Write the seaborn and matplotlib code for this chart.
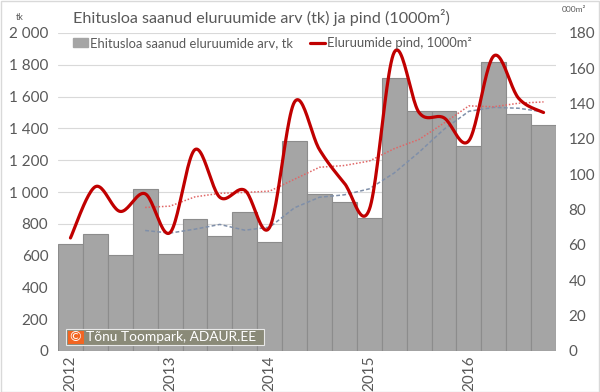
import numpy as np
import pandas as pd
import matplotlib
matplotlib.use("Agg")
import matplotlib.pyplot as plt
import seaborn as sns
from matplotlib.patches import Patch, Rectangle
from matplotlib.lines import Line2D

# ---- data ----
quarters = ["2012 Q1", "2012 Q2", "2012 Q3", "2012 Q4",
            "2013 Q1", "2013 Q2", "2013 Q3", "2013 Q4",
            "2014 Q1", "2014 Q2", "2014 Q3", "2014 Q4",
            "2015 Q1", "2015 Q2", "2015 Q3", "2015 Q4",
            "2016 Q1", "2016 Q2", "2016 Q3", "2016 Q4"]
count_tk = [675, 734, 604, 1019, 610, 832, 723, 874, 686, 1321,
            987, 935, 836, 1719, 1511, 1511, 1289, 1818, 1489, 1419]
area_1000m2 = [64, 93, 79, 89, 67, 114, 87, 91, 70, 141,
               114, 95, 80, 169, 135, 132, 119, 167, 143, 135]
year_labels = ["2012", "2013", "2014", "2015", "2016"]
left_ticks = [0, 200, 400, 600, 800, 1000, 1200, 1400, 1600, 1800, 2000]
right_ticks = [0, 20, 40, 60, 80, 100, 120, 140, 160, 180]

title = "Ehitusloa saanud eluruumide arv (tk) ja pind (1000m²)"
lab_bar = "Ehitusloa saanud eluruumide arv, tk"
lab_line = "Eluruumide pind, 1000m²"

GREY_TXT = "#595959"
BAR = "#A5A5A5"
RED = "#C00000"

df = pd.DataFrame({"quarter": quarters, "count": count_tk, "area": area_1000m2})
df["pos"] = np.arange(len(df))
df["ma_count"] = df["count"].rolling(4).mean()
df["ma_area"] = df["area"].rolling(4).mean()


def catmull_rom(x, y, n=24):
    x = np.asarray(x, float)
    y = np.asarray(y, float)
    px = np.concatenate([[x[0]], x, [x[-1]]])
    py = np.concatenate([[y[0]], y, [y[-1]]])
    ox, oy = [], []
    t = np.linspace(0, 1, n, endpoint=False)
    for i in range(1, len(px) - 2):
        for arr, out in ((px, ox), (py, oy)):
            p0, p1, p2, p3 = arr[i - 1], arr[i], arr[i + 1], arr[i + 2]
            out.extend(0.5 * ((2 * p1) + (-p0 + p2) * t
                              + (2 * p0 - 5 * p1 + 4 * p2 - p3) * t ** 2
                              + (-p0 + 3 * p1 - 3 * p2 + p3) * t ** 3))
    ox.append(x[-1]); oy.append(y[-1])
    return np.array(ox), np.array(oy)


sns.set_theme(style="white")
plt.rcParams["font.family"] = ["Lato", "DejaVu Sans"]

fig = plt.figure(figsize=(6, 3.92), dpi=100)
ax = fig.add_axes([58 / 600, 41 / 392, 498 / 600, 318 / 392])

sns.barplot(data=df, x="quarter", y="count", color=BAR, saturation=1,
            width=1.0, edgecolor="#8C8C8C", linewidth=0.8, ax=ax, zorder=2)
ax.plot(df["pos"], df["ma_count"], color="#7F8FA9", lw=1.1,
        ls=(0, (2.5, 1.5)), zorder=3)

ax.set_xlim(-0.5, 19.5)
ax.set_ylim(0, 2000)
ax.set_yticks(left_ticks)
ax.set_yticklabels([f"{v:,}".replace(",", " ") for v in left_ticks])
ax.set_xticks([0, 4, 8, 12, 16])
ax.set_xticklabels(year_labels, rotation=90)
ax.set_xlabel("")
ax.set_ylabel("")
ax.yaxis.grid(True, color="#D9D9D9", lw=0.8, zorder=0)
ax.set_axisbelow(True)
for s in ax.spines.values():
    s.set_visible(False)
ax.tick_params(axis="both", length=0, labelsize=11, colors=GREY_TXT)
ax.tick_params(axis="y", pad=7)
ax.tick_params(axis="x", pad=3)

ax2 = ax.twinx()
ax2.set_ylim(0, 180)
ax2.set_yticks(right_ticks)
for s in ax2.spines.values():
    s.set_visible(False)
ax2.tick_params(axis="y", length=0, labelsize=11, colors=GREY_TXT, pad=9)
ax2.grid(False)

ax2.plot(df["pos"], df["ma_area"], color="#E06666", lw=1.1,
         ls=(0, (1, 1.2)), zorder=3)
sx, sy = catmull_rom(df["pos"], df["area"])
sns.lineplot(x=sx, y=sy, sort=False, estimator=None, color=RED, lw=2.3,
             ax=ax2, zorder=4)
ax2.set_xlim(-0.5, 19.5)

# title & legend
fig.text(261 / 600, 1 - 17 / 392, title, ha="center", va="center",
         fontsize=11.6, color=GREY_TXT)
handles = [Patch(facecolor=BAR, edgecolor=BAR),
           Line2D([0], [0], color=RED, lw=2.3)]
fig.legend(handles, [lab_bar, lab_line], loc="center",
           bbox_to_anchor=(272 / 600, 1 - 43 / 392), ncol=2, frameon=False,
           fontsize=9.4, handlelength=1.15, handleheight=0.6,
           handletextpad=0.15, columnspacing=1.3, labelcolor=GREY_TXT)

fig.text(20 / 600, 1 - 17 / 392, "tk", ha="center", va="center",
         fontsize=6.5, color=GREY_TXT)
fig.text(574 / 600, 1 - 10 / 392, "000m²", ha="center", va="center",
         fontsize=6, color=GREY_TXT)

# copyright box
fig.patches.append(Rectangle((66 / 600, 1 - 345 / 392), 198 / 600, 16 / 392,
                             transform=fig.transFigure, facecolor="#8A8A78",
                             edgecolor="#E8E8E8", lw=0.8, zorder=10))
fig.patches.append(Rectangle((67.5 / 600, 1 - 343.5 / 392), 16 / 600, 13 / 392,
                             transform=fig.transFigure, facecolor="#F26522",
                             edgecolor="none", zorder=11))
fig.text(75.5 / 600, 1 - 337 / 392, "©", ha="center", va="center",
         fontsize=10, color="white", zorder=12)
fig.text(86 / 600, 1 - 337 / 392, "Tõnu Toompark, ADAUR.EE", ha="left",
         va="center", fontsize=9.9, color="white", zorder=12)

# outer border
fig.patches.append(Rectangle((0.5 / 600, 0.5 / 392), 598.5 / 600, 390.5 / 392,
                             transform=fig.transFigure, facecolor="none",
                             edgecolor="#D9D9D9", lw=1, zorder=20))

fig.savefig("out.png", dpi=100)
